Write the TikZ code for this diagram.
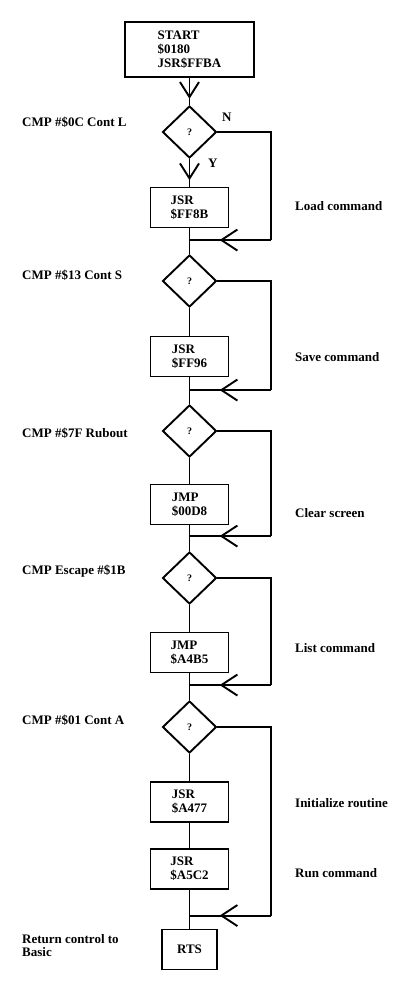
\documentclass[tikz,border=0pt]{standalone}
\usepackage{fontspec}
\setmainfont{Liberation Serif}
\usepackage{tikz}
\usetikzlibrary{shapes.geometric,arrows.meta,decorations.markings,calc}
\tikzstyle{block} = [rectangle, draw, line width=1.9pt, align=left,
    minimum width=78pt, minimum height=40pt, inner sep=2pt,
    font=\bfseries\fontsize{13}{14}\selectfont]
\tikzstyle{decision} = [diamond, draw, line width=1.9pt, minimum width=54pt,
    minimum height=52pt, inner sep=0pt, font=\bfseries\fontsize{10}{12}\selectfont]
\tikzstyle{note} = [anchor=west, align=left, inner sep=0pt,
    font=\bfseries\fontsize{13}{13}\selectfont]
\tikzstyle{line} = [draw, line width=1.9pt]
\tikzstyle{flow} = [line, postaction={decorate}, decoration={markings,
    mark=at position 0.77 with {\arrow{Straight Barb[length=15pt,width=19pt]}}}]
\tikzstyle{merge} = [line, postaction={decorate}, decoration={markings,
    mark=at position 0.63 with {\arrow{Straight Barb[length=16pt,width=21pt]}}}]

\begin{document}
\begin{tikzpicture}[x=1pt, y=1pt, node distance=74.5pt]
  \useasboundingbox (0,0) rectangle (405,-981);
   % Place nodes
    \node [block, minimum width=129pt, minimum height=55pt] (start) at (189.5,-49.5) {START\\\$0180\\JSR\$FFBA};
    \node [decision, below of=start, node distance=82.5pt] (d1) {?};
    \node [block, below of=d1, node distance=75.5pt] (jsr1) {JSR\\\$FF8B};
    \node [decision, below of=jsr1, node distance=73.5pt] (d2) {?};
    \node [block, below of=d2, node distance=75.5pt] (jsr2) {JSR\\\$FF96};
    \node [decision, below of=jsr2] (d3) {?};
    \node [block, below of=d3, node distance=73.5pt] (jmp1) {JMP\\\$00D8};
    \node [decision, below of=jmp1, node distance=73.5pt] (d4) {?};
    \node [block, below of=d4] (jmp2) {JMP\\\$A4B5};
    \node [decision, below of=jmp2] (d5) {?};
    \node [block, below of=d5, node distance=75pt] (jsr3) {JSR\\\$A477};
    \node [block, below of=jsr3, node distance=67pt] (jsr4) {JSR\\\$A5C2};
    \node [block, below of=jsr4, node distance=80.5pt, minimum width=55pt] (rts) {RTS};
   % Branch labels
    \node [note] (no) at (222,-117) {N};
    \node [note] (yes) at (208,-163) {Y};
   % Comments
    \node [note] (cmpL) at (22,-122) {CMP \#\$0C Cont L};
    \node [note] (cmpS) at (22,-275) {CMP \#\$13 Cont S};
    \node [note] (cmpR) at (22,-433) {CMP \#\$7F Rubout};
    \node [note] (cmpE) at (22,-571) {CMP Escape \#\$1B};
    \node [note] (cmpA) at (22,-720) {CMP \#\$01 Cont A};
    \node [note] (ret) at (22,-946) {Return control to\\Basic};
    \node [note] (load) at (295,-206) {Load command};
    \node [note] (save) at (295,-357) {Save command};
    \node [note] (clear) at (295,-513) {Clear screen};
    \node [note] (list) at (295,-648) {List command};
    \node [note] (init) at (295,-803) {Initialize routine};
    \node [note] (run) at (295,-873) {Run command};
   % Merge points
    \coordinate (rail) at (271,0);
    \coordinate (m1) at ($(d2.north)+(0,14)$);
    \coordinate (m2) at ($(d3.north)+(0,14)$);
    \coordinate (m3) at ($(d4.north)+(0,15)$);
    \coordinate (m4) at ($(d5.north)+(0,15)$);
    \coordinate (m5) at ($(rts.north)+(0,13)$);
   % Draw edges
    \path [flow] (start) -- (d1);
    \path [flow] (d1) -- (jsr1);
    \path [line] (jsr1) -- (d2);
    \path [line] (d2) -- (jsr2);
    \path [line] (jsr2) -- (d3);
    \path [line] (d3) -- (jmp1);
    \path [line] (jmp1) -- (d4);
    \path [line] (d4) -- (jmp2);
    \path [line] (jmp2) -- (d5);
    \path [line] (d5) -- (jsr3);
    \path [line] (jsr3) -- (jsr4);
    \path [line] (jsr4) -- (rts);
   % Skip branches
    \path [line] (d1.east) -| (rail |- m1);
    \path [merge] (rail |- m1) -- (m1);
    \path [line] (d2.east) -| (rail |- m2);
    \path [merge] (rail |- m2) -- (m2);
    \path [line] (d3.east) -| (rail |- m3);
    \path [merge] (rail |- m3) -- (m3);
    \path [line] (d4.east) -| (rail |- m4);
    \path [merge] (rail |- m4) -- (m4);
    \path [line] (d5.east) -| (rail |- m5);
    \path [merge] (rail |- m5) -- (m5);
  \end{tikzpicture}
\end{document}
